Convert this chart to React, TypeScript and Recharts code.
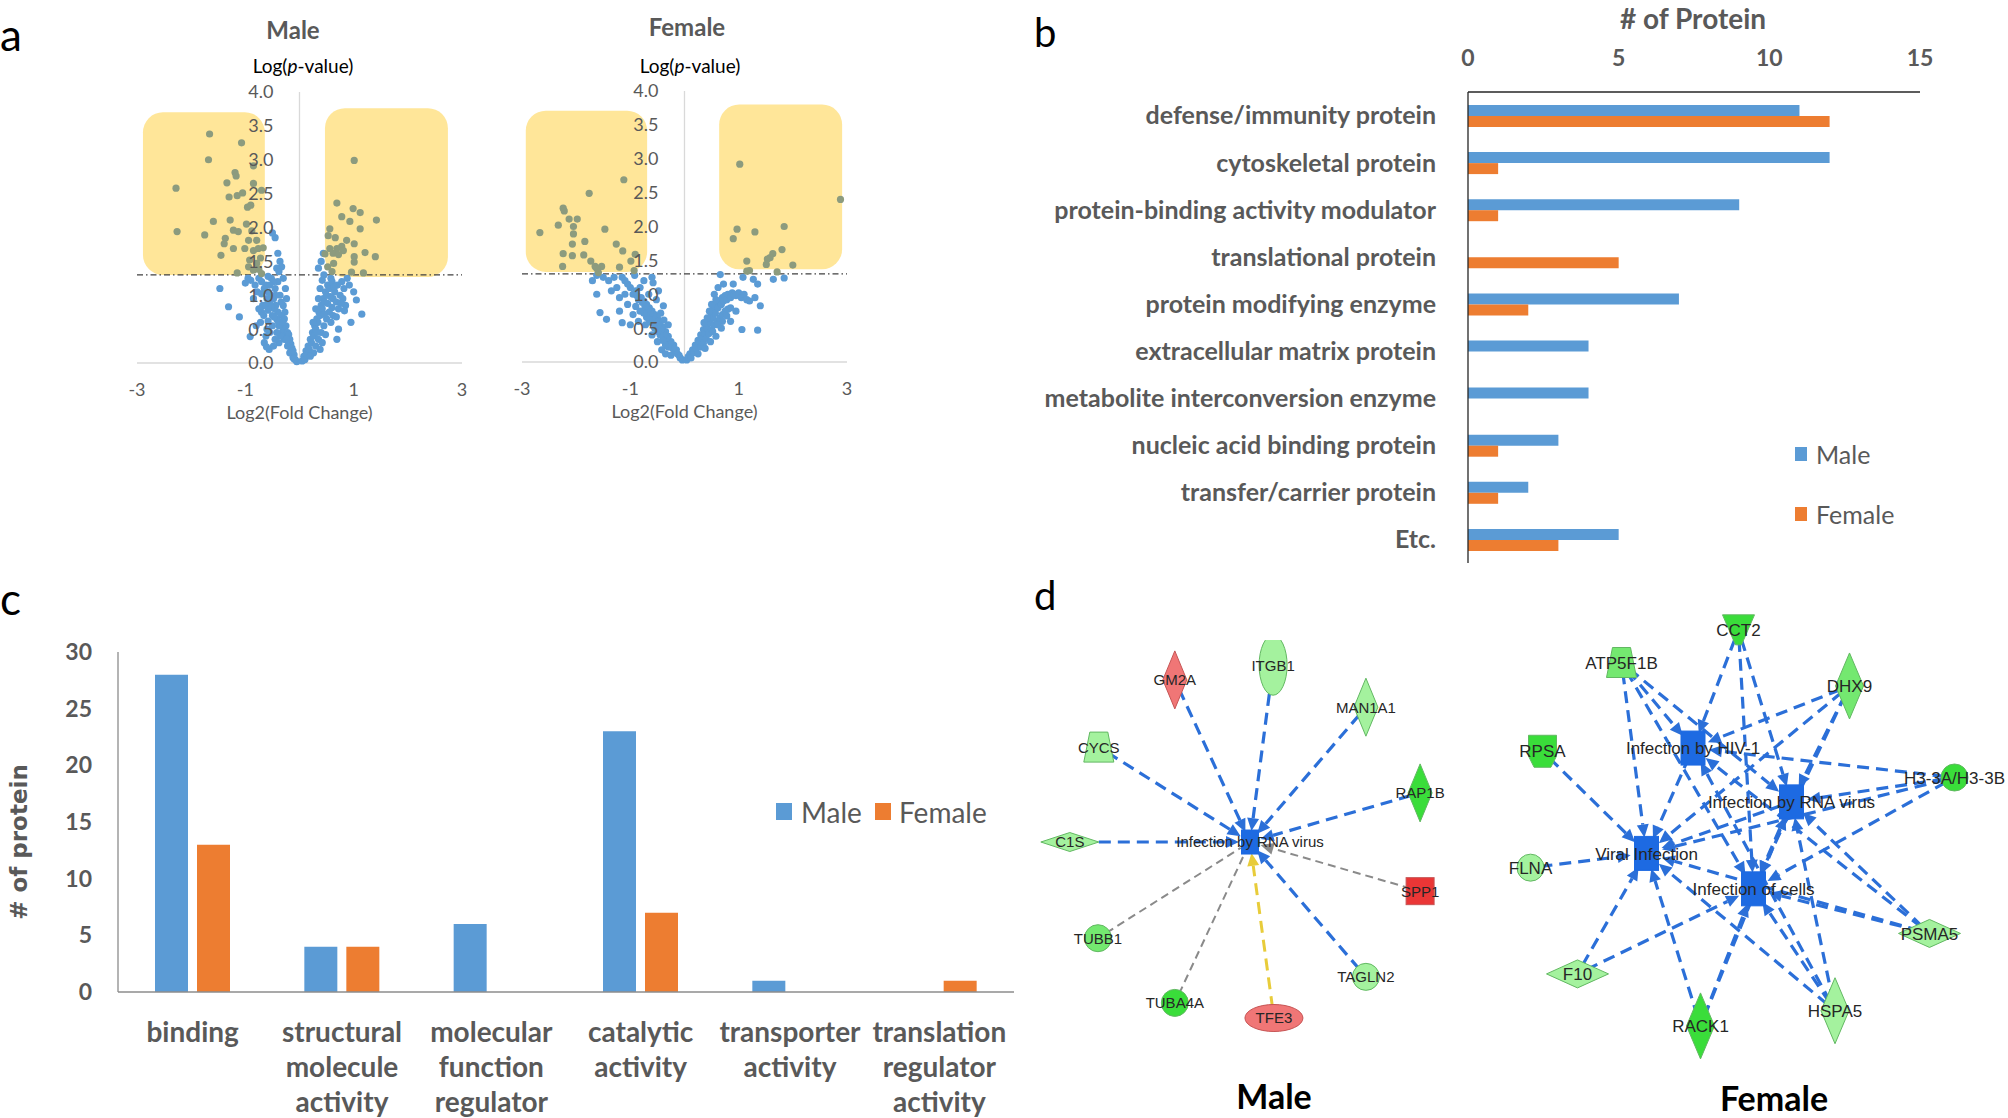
import React from 'react';
import {
  ScatterChart,
  Scatter,
  BarChart,
  Bar,
  XAxis,
  YAxis,
  ReferenceArea,
  ReferenceLine,
  Legend,
} from 'recharts';

const BLUE = '#5B9BD5';
const ORANGE = '#ED7D31';
const OLIVE = '#8C9B7E';
const TXT = '#595959';
const BOX = '#FFE699';
const LATO = 'Lato, "Open Sans", sans-serif';
const ARIAL = '"Liberation Sans", Arial, sans-serif';
const VERDANA = '"DejaVu Sans", Verdana, sans-serif';

// ---------------- panel a : volcano plots ----------------
const volcanoXTicks = [-3, -1, 1, 3];
const volcanoYTicks = [0, 0.5, 1, 1.5, 2, 2.5, 3, 3.5, 4];
const pThreshold = 1.3;

const maleBlue: [number, number][] = [
  [-0.05, 0.02], [-0.08, 0.05], [-0.1, 0.12], [-0.12, 0.08], [-0.15, 0.2], [-0.18, 0.15], [-0.2, 0.3], [-0.22, 0.25],
  [-0.25, 0.4], [-0.28, 0.35], [-0.3, 0.5], [-0.32, 0.45], [-0.35, 0.6], [-0.33, 0.7], [-0.38, 0.55], [-0.4, 0.75],
  [-0.42, 0.65], [-0.44, 0.85], [-0.46, 0.8], [-0.48, 0.95], [-0.5, 0.7], [-0.52, 1.0], [-0.55, 0.9], [-0.58, 1.05],
  [-0.6, 0.95], [-0.62, 1.15], [-0.65, 1.1], [-0.68, 0.85], [-0.7, 0.75], [-0.72, 0.6], [-0.75, 0.8], [-0.45, 1.1],
  [-0.4, 1.2], [-0.36, 1.0], [-0.3, 0.85], [-0.28, 0.65], [-0.25, 0.55], [-0.22, 0.45], [-0.2, 0.42], [-0.18, 0.35],
  [-0.16, 0.28], [-0.14, 0.22], [-0.12, 0.18], [-0.1, 0.06], [-0.35, 0.4], [-0.38, 0.3], [-0.42, 0.45], [-0.45, 0.35],
  [-0.5, 0.55], [-0.55, 0.45], [-0.58, 0.62], [-0.6, 0.5], [-0.62, 0.4], [-0.65, 0.3], [-0.56, 0.2], [-0.48, 0.25],
  [-0.52, 1.25], [-0.48, 1.2], [-0.58, 1.28], [-0.7, 1.2], [-0.75, 1.25], [-0.78, 1.05], [-0.82, 1.15], [-0.85, 0.95],
  [-0.9, 1.22], [-0.95, 1.25], [-1.0, 1.18], [-1.47, 1.1], [-1.31, 0.83], [-1.11, 0.68], [-0.91, 0.39], [-0.61, 0.24],
  [-0.8, 0.55], [-0.36, 1.5], [-0.4, 1.62], [-0.45, 1.85], [-0.5, 1.92], [-0.33, 1.42], [-0.42, 1.4], [-0.38, 1.35],
  [-0.3, 1.25], [-0.26, 1.1], [-0.24, 0.95], [-0.27, 0.75], [-0.55, 1.15], [-0.62, 0.85], [-0.66, 0.7], [-0.44, 1.0],
  [-0.34, 0.9], [-0.52, 0.82], [-0.4, 0.62], [-0.58, 0.78], [-0.7, 1.02], [-0.31, 0.6], [-0.47, 0.68], [-0.24, 0.35],
  [0.05, 0.03], [0.08, 0.1], [0.1, 0.05], [0.12, 0.18], [0.14, 0.12], [0.16, 0.25], [0.18, 0.2], [0.2, 0.35],
  [0.22, 0.3], [0.24, 0.45], [0.26, 0.4], [0.28, 0.55], [0.3, 0.5], [0.32, 0.65], [0.34, 0.6], [0.36, 0.75],
  [0.38, 0.7], [0.4, 0.85], [0.42, 0.8], [0.44, 0.95], [0.46, 0.9], [0.48, 1.05], [0.5, 1.0], [0.52, 1.15],
  [0.55, 1.1], [0.58, 1.25], [0.6, 1.2], [0.62, 0.95], [0.65, 1.05], [0.68, 0.9], [0.7, 1.15], [0.72, 0.8],
  [0.75, 1.0], [0.78, 1.2], [0.8, 0.95], [0.82, 1.1], [0.85, 0.85], [0.88, 1.25], [0.3, 0.25], [0.35, 0.35],
  [0.4, 0.45], [0.45, 0.55], [0.5, 0.65], [0.55, 0.75], [0.58, 0.6], [0.62, 0.7], [0.48, 0.42], [0.42, 0.3],
  [0.38, 0.2], [0.26, 0.15], [0.2, 0.1], [0.25, 0.6], [0.3, 0.8], [0.35, 0.95], [0.38, 1.1], [0.42, 1.22],
  [0.45, 1.3], [0.35, 1.4], [0.4, 1.5], [0.44, 1.62], [1.15, 0.72], [1.05, 0.93], [0.83, 0.77], [0.69, 0.35],
  [0.95, 0.6], [0.72, 0.5], [0.92, 1.15], [1.0, 1.05], [0.52, 0.88], [0.64, 1.12], [0.57, 0.98], [0.46, 0.72],
  [0.68, 0.68], [0.76, 0.88], [0.33, 0.45], [0.6, 0.82],
];

const maleSig: [number, number][] = [
  [-2.28, 2.58], [-2.26, 1.94], [-1.66, 3.38], [-1.68, 3.0], [-1.59, 2.09], [-1.75, 1.89], [-1.45, 1.59], [-1.34, 2.66],
  [-1.19, 2.81], [-1.17, 2.76], [-1.07, 3.25], [-1.3, 2.45], [-1.15, 2.47], [-1.05, 2.51], [-0.85, 2.91], [-0.85, 2.65],
  [-0.96, 2.3], [-0.9, 2.33], [-1.28, 2.11], [-1.22, 1.96], [-1.13, 1.94], [-1.37, 1.84], [-1.39, 1.76], [-1.22, 1.69],
  [-1.01, 1.69], [-0.94, 1.81], [-0.79, 1.81], [-0.85, 1.66], [-0.76, 1.69], [-0.67, 1.7], [-0.79, 1.47], [-0.72, 1.55],
  [-0.92, 1.52], [-0.75, 1.38], [-1.15, 1.33], [-0.94, 1.42], [-0.85, 1.37], [-0.7, 2.55], [-0.98, 2.05], [-0.88, 1.95],
  [-0.7, 1.32],
  [1.01, 2.99], [0.69, 2.36], [0.99, 2.28], [1.12, 2.22], [0.78, 2.16], [0.93, 2.09], [1.42, 2.11], [0.56, 1.98],
  [1.12, 1.98], [0.53, 1.88], [0.66, 1.85], [0.87, 1.81], [1.01, 1.76], [0.78, 1.72], [0.69, 1.69], [0.81, 1.66],
  [0.62, 1.62], [0.56, 1.69], [1.21, 1.63], [1.01, 1.57], [1.4, 1.57], [1.01, 1.49], [0.63, 1.47], [0.96, 1.34],
  [1.18, 1.33], [0.47, 1.61], [0.72, 1.6], [0.6, 1.35], [0.52, 1.42],
];

const femaleBlue: [number, number][] = [
  [-0.04, 0.03], [-0.08, 0.06], [-0.1, 0.1], [-0.13, 0.12], [-0.15, 0.18], [-0.18, 0.15], [-0.2, 0.25], [-0.22, 0.2],
  [-0.25, 0.3], [-0.28, 0.28], [-0.3, 0.38], [-0.33, 0.35], [-0.35, 0.45], [-0.38, 0.4], [-0.4, 0.52], [-0.43, 0.48],
  [-0.45, 0.6], [-0.48, 0.55], [-0.5, 0.65], [-0.53, 0.62], [-0.55, 0.7], [-0.58, 0.68], [-0.6, 0.75], [-0.63, 0.72],
  [-0.65, 0.8], [-0.68, 0.78], [-0.7, 0.85], [-0.73, 0.82], [-0.75, 0.9], [-0.78, 0.88], [-0.8, 0.95], [-0.85, 0.92],
  [-0.88, 0.98], [-0.9, 1.05], [-0.95, 1.0], [-1.0, 1.1], [-1.05, 1.15], [-1.1, 1.2], [-1.15, 1.25], [-0.3, 0.22],
  [-0.35, 0.25], [-0.4, 0.32], [-0.45, 0.4], [-0.5, 0.45], [-0.55, 0.5], [-0.6, 0.58], [-0.65, 0.62], [-0.7, 0.66],
  [-0.75, 0.72], [-0.82, 0.75], [-0.5, 0.3], [-0.42, 0.18], [-0.35, 0.12], [-0.25, 0.1], [-0.6, 0.4], [-0.72, 0.55],
  [-0.85, 0.6], [-0.95, 0.7], [-1.05, 0.85], [-1.2, 0.95], [-1.25, 1.1], [-1.3, 1.25], [-1.4, 1.2], [-1.56, 0.73],
  [-1.44, 0.63], [-1.62, 1.0], [-1.35, 1.05], [-1.2, 0.75], [-1.15, 0.58], [-1.0, 0.55], [-0.58, 1.17], [-0.39, 0.83],
  [-0.48, 1.05], [-0.6, 1.25], [-0.75, 1.2], [-0.92, 1.28], [-1.5, 1.25], [-1.62, 1.28], [-1.7, 1.2], [-0.52, 0.92],
  [-0.66, 1.0], [-0.44, 0.72], [-0.82, 1.1], [-0.3, 0.55], [-0.9, 0.82], [-1.1, 1.0], [-0.38, 0.62],
  [0.04, 0.03], [0.07, 0.08], [0.1, 0.12], [0.12, 0.06], [0.15, 0.18], [0.17, 0.14], [0.2, 0.25], [0.22, 0.2],
  [0.25, 0.32], [0.27, 0.28], [0.3, 0.4], [0.32, 0.35], [0.35, 0.48], [0.37, 0.42], [0.4, 0.55], [0.42, 0.5],
  [0.45, 0.62], [0.47, 0.58], [0.5, 0.7], [0.52, 0.65], [0.55, 0.78], [0.57, 0.72], [0.6, 0.85], [0.62, 0.8],
  [0.65, 0.9], [0.68, 0.85], [0.7, 0.95], [0.72, 0.9], [0.75, 0.98], [0.78, 0.92], [0.8, 1.0], [0.85, 0.95],
  [0.88, 1.02], [0.92, 1.0], [0.95, 0.98], [1.0, 1.02], [1.05, 0.95], [1.1, 1.0], [1.15, 0.92], [1.2, 0.9],
  [0.3, 0.22], [0.35, 0.28], [0.4, 0.35], [0.45, 0.42], [0.5, 0.48], [0.55, 0.55], [0.6, 0.6], [0.65, 0.65],
  [0.7, 0.7], [0.75, 0.75], [0.8, 0.78], [0.85, 0.8], [0.25, 0.12], [0.38, 0.2], [0.48, 0.3], [0.58, 0.38],
  [0.68, 0.5], [0.42, 0.65], [0.5, 0.85], [0.55, 1.0], [0.62, 1.1], [0.66, 1.29], [0.72, 1.15], [0.9, 1.15],
  [1.08, 1.25], [1.27, 1.22], [1.35, 1.15], [1.64, 1.22], [1.84, 1.24], [1.06, 0.48], [1.35, 0.47], [1.4, 0.83],
  [1.3, 0.95], [0.95, 0.75], [0.85, 0.6], [0.46, 0.75], [0.58, 0.92], [0.7, 0.6], [0.36, 0.58], [0.78, 0.68],
  [0.52, 0.45], [0.62, 0.55],
];

const femaleSig: [number, number][] = [
  [-2.67, 1.91], [-2.33, 2.02], [-2.24, 2.27], [-2.22, 2.23], [-2.13, 2.11], [-1.98, 2.11], [-2.05, 2.0], [-2.05, 1.89],
  [-2.07, 1.74], [-2.24, 1.6], [-2.07, 1.57], [-2.25, 1.41], [-1.84, 1.78], [-1.86, 1.58], [-1.76, 2.49], [-1.73, 1.49],
  [-1.65, 1.41], [-1.53, 1.41], [-1.47, 1.96], [-1.26, 1.74], [-1.14, 1.64], [-1.12, 2.69], [-0.99, 1.49], [-0.91, 1.59],
  [-0.93, 1.35], [-1.59, 1.32], [-1.62, 1.38], [-1.2, 1.4],
  [1.02, 2.92], [2.88, 2.4], [0.97, 1.96], [0.9, 1.82], [1.3, 1.92], [1.84, 2.0], [1.8, 1.66], [1.63, 1.6],
  [1.58, 1.54], [1.53, 1.52], [1.51, 1.44], [1.15, 1.49], [2.0, 1.43], [1.2, 1.35], [1.15, 1.34], [1.71, 1.33],
];

// highlighted ranges [x1, x2, y1, y2]
const maleBoxes: [number, number, number, number][] = [[-2.89, -0.64, 1.3, 3.7], [0.47, 2.74, 1.27, 3.76]];
const femaleBoxes: [number, number, number, number][] = [[-2.93, -0.69, 1.33, 3.71], [0.64, 2.91, 1.37, 3.8]];

// ---------------- panel b : protein class ----------------
const proteinClasses = [
  'defense/immunity protein',
  'cytoskeletal protein',
  'protein-binding activity modulator',
  'translational protein',
  'protein modifying enzyme',
  'extracellular matrix protein',
  'metabolite interconversion enzyme',
  'nucleic acid binding protein',
  'transfer/carrier protein',
  'Etc.',
];
const classMale = [11, 12, 9, 0, 7, 4, 4, 3, 2, 5];
const classFemale = [12, 1, 1, 5, 2, 0, 0, 1, 1, 3];
const classTicks = [0, 5, 10, 15];

// ---------------- panel c : molecular function ----------------
const functionCats = [
  'binding',
  'structural molecule activity',
  'molecular function regulator',
  'catalytic activity',
  'transporter activity',
  'translation regulator activity',
];
const funcMale = [28, 4, 6, 23, 1, 0];
const funcFemale = [13, 4, 0, 7, 0, 1];
const funcTicks = [0, 5, 10, 15, 20, 25, 30];

// ---------------- panel d : networks ----------------
type NetNode = { id: string; label: string; x: number; y: number; kind: string; tone: string };

const maleNodes: NetNode[] = [
  { id: 'RNA', label: 'Infection by RNA virus', x: 50.0, y: 48.1, kind: 'fnS', tone: 'fn' },
  { id: 'GM2A', label: 'GM2A', x: 32.1, y: 9.5, kind: 'vdia', tone: 'pink' },
  { id: 'ITGB1', label: 'ITGB1', x: 55.5, y: 6.0, kind: 'ellV', tone: 'light' },
  { id: 'MAN1A1', label: 'MAN1A1', x: 77.6, y: 16.0, kind: 'vdia', tone: 'light' },
  { id: 'CYCS', label: 'CYCS', x: 14.0, y: 25.5, kind: 'trap', tone: 'light' },
  { id: 'RAP1B', label: 'RAP1B', x: 90.5, y: 36.4, kind: 'vdia', tone: 'bright' },
  { id: 'C1S', label: 'C1S', x: 7.1, y: 48.1, kind: 'hdia', tone: 'light' },
  { id: 'SPP1', label: 'SPP1', x: 90.5, y: 59.8, kind: 'sq', tone: 'red' },
  { id: 'TUBB1', label: 'TUBB1', x: 13.8, y: 71.0, kind: 'circ', tone: 'mid' },
  { id: 'TAGLN2', label: 'TAGLN2', x: 77.6, y: 80.2, kind: 'circ', tone: 'light' },
  { id: 'TUBA4A', label: 'TUBA4A', x: 32.1, y: 86.4, kind: 'circ', tone: 'bright' },
  { id: 'TFE3', label: 'TFE3', x: 55.7, y: 90.0, kind: 'ellH', tone: 'pink' },
];
const maleEdges: [string, string, string][] = [
  ['GM2A', 'RNA', 'blue'], ['ITGB1', 'RNA', 'blue'], ['MAN1A1', 'RNA', 'blue'], ['CYCS', 'RNA', 'blue'],
  ['RAP1B', 'RNA', 'blue'], ['C1S', 'RNA', 'blue'], ['TAGLN2', 'RNA', 'blue'], ['SPP1', 'RNA', 'grayArrow'],
  ['TUBB1', 'RNA', 'gray'], ['TUBA4A', 'RNA', 'gray'], ['TFE3', 'RNA', 'yellow'],
];

const femaleNodes: NetNode[] = [
  { id: 'HIV', label: 'Infection by HIV-1', x: 37.6, y: 31.1, kind: 'fnL', tone: 'fn' },
  { id: 'RNA', label: 'Infection by RNA virus', x: 57.3, y: 42.8, kind: 'fnL', tone: 'fn' },
  { id: 'VIR', label: 'Viral Infection', x: 28.3, y: 54.0, kind: 'fnL', tone: 'fn' },
  { id: 'CEL', label: 'Infection of cells', x: 49.7, y: 61.7, kind: 'fnL', tone: 'fn' },
  { id: 'CCT2', label: 'CCT2', x: 46.7, y: 5.4, kind: 'tri', tone: 'bright' },
  { id: 'ATP5F1B', label: 'ATP5F1B', x: 23.3, y: 12.5, kind: 'trap', tone: 'mid' },
  { id: 'DHX9', label: 'DHX9', x: 68.9, y: 17.6, kind: 'vdiaL', tone: 'mid' },
  { id: 'RPSA', label: 'RPSA', x: 7.5, y: 31.8, kind: 'hex', tone: 'bright' },
  { id: 'H3', label: 'H3-3A/H3-3B', x: 89.9, y: 37.5, kind: 'circ', tone: 'bright' },
  { id: 'FLNA', label: 'FLNA', x: 5.1, y: 57.1, kind: 'circ', tone: 'light' },
  { id: 'PSMA5', label: 'PSMA5', x: 84.9, y: 71.4, kind: 'hdiaL', tone: 'light' },
  { id: 'F10', label: 'F10', x: 14.5, y: 80.2, kind: 'hdiaL', tone: 'light' },
  { id: 'RACK1', label: 'RACK1', x: 39.1, y: 91.5, kind: 'vdiaL', tone: 'bright' },
  { id: 'HSPA5', label: 'HSPA5', x: 66.0, y: 88.2, kind: 'vdiaL', tone: 'light' },
];
const femaleEdges: [string, string, string][] = [
  ['ATP5F1B', 'HIV', 'blue'], ['ATP5F1B', 'RNA', 'blue'], ['ATP5F1B', 'VIR', 'blue'], ['ATP5F1B', 'CEL', 'blue'],
  ['CCT2', 'HIV', 'blue'], ['CCT2', 'RNA', 'blue'], ['CCT2', 'CEL', 'blue'],
  ['DHX9', 'HIV', 'blue'], ['DHX9', 'RNA', 'blue'], ['DHX9', 'VIR', 'blue'], ['DHX9', 'CEL', 'blue'],
  ['RPSA', 'VIR', 'blue'], ['FLNA', 'VIR', 'blue'],
  ['H3', 'HIV', 'blue'], ['H3', 'RNA', 'blue'], ['H3', 'VIR', 'blue'], ['H3', 'CEL', 'blue'],
  ['PSMA5', 'HIV', 'blue'], ['PSMA5', 'RNA', 'blue'], ['PSMA5', 'CEL', 'blue'], ['PSMA5', 'VIR', 'blue'],
  ['F10', 'VIR', 'blue'], ['F10', 'CEL', 'blue'],
  ['RACK1', 'VIR', 'blue'], ['RACK1', 'CEL', 'blue'], ['RACK1', 'RNA', 'blue'],
  ['HSPA5', 'HIV', 'blue'], ['HSPA5', 'VIR', 'blue'], ['HSPA5', 'CEL', 'blue'], ['HSPA5', 'RNA', 'blue'],
  ['HIV', 'VIR', 'blue'], ['RNA', 'CEL', 'blue'], ['RNA', 'VIR', 'blue'],
];

// ---------------- helpers ----------------
const Txt = ({ x, y, size, children, weight = 400, color = TXT, family = LATO, anchor = 'middle' }: any) => (
  <div
    style={{
      position: 'absolute',
      left: x,
      top: y,
      transform: `translate(${anchor === 'middle' ? '-50%' : '0'}, -50%)`,
      fontSize: size,
      fontWeight: weight,
      color,
      fontFamily: family,
      whiteSpace: 'nowrap',
      lineHeight: 1,
    }}
  >
    {children}
  </div>
);

const toPts = (arr: [number, number][]) => arr.map(([x, y]) => ({ x, y }));

const VW = 365;
const VH = 351;
const VM = { top: 20, right: 20, bottom: 0, left: 19 };
const V_YAXIS_W = 1;
const V_CENTER = VM.left + V_YAXIS_W + (VW - VM.left - V_YAXIS_W - VM.right) / 2;

const VolcanoYTick = ({ y, payload }: any) => (
  <text x={V_CENTER - 26} y={y} dy="0.36em" textAnchor="end" fill={TXT} fontSize={18} fontFamily={LATO}>
    {Number(payload.value).toFixed(1)}
  </text>
);

function Volcano({ left, top, blue, sig, boxes }: any) {
  const dot = (color: string) => (p: any) => <circle cx={p.cx} cy={p.cy} r={3.6} fill={color} />;
  return (
    <div style={{ position: 'absolute', left, top }}>
      <ScatterChart width={VW} height={VH} margin={VM}>
        <XAxis
          type="number"
          dataKey="x"
          domain={[-3, 3]}
          ticks={volcanoXTicks}
          height={60}
          tickLine={false}
          tickSize={0}
          tickMargin={20}
          axisLine={{ stroke: '#D9D9D9', strokeWidth: 1.3 }}
          tick={{ fill: TXT, fontSize: 18, fontFamily: LATO }}
          label={{ value: 'Log2(Fold Change)', position: 'insideBottom', offset: 4, fill: TXT, fontSize: 18, fontFamily: LATO }}
        />
        <YAxis
          type="number"
          dataKey="y"
          domain={[0, 4]}
          ticks={volcanoYTicks}
          width={V_YAXIS_W}
          axisLine={false}
          tickLine={false}
          tick={(p: any) => <VolcanoYTick {...p} />}
        />
        {boxes.map((b: number[], i: number) => (
          <ReferenceArea
            key={i}
            x1={b[0]}
            x2={b[1]}
            y1={b[2]}
            y2={b[3]}
            ifOverflow="visible"
            shape={(p: any) => <rect x={p.x} y={p.y} width={p.width} height={p.height} rx={20} ry={20} fill={BOX} />}
          />
        ))}
        <ReferenceLine x={0} stroke="#D9D9D9" strokeWidth={1.3} />
        <ReferenceLine y={pThreshold} stroke="#404040" strokeWidth={1.2} strokeDasharray="6 3 1.5 3" />
        <Scatter data={toPts(blue)} shape={dot(BLUE)} isAnimationActive={false} />
        <Scatter data={toPts(sig)} shape={dot(OLIVE)} isAnimationActive={false} />
      </ScatterChart>
    </div>
  );
}

// ---------- network glyphs ----------
const NODE_SIZE: Record<string, [number, number]> = {
  fnS: [17, 24],
  fnL: [24, 34],
  vdia: [24, 58],
  vdiaL: [28, 66],
  hdia: [58, 19],
  hdiaL: [62, 28],
  ellV: [28, 60],
  ellH: [58, 27],
  circ: [27, 27],
  sq: [28, 27],
  trap: [30, 30],
  hex: [28, 32],
  tri: [32, 30],
};
const TONE: Record<string, string> = {
  light: '#A4F29E',
  mid: '#74E870',
  bright: '#3ADD3A',
  pink: '#F07676',
  red: '#EA3636',
  fn: '#1D6AE2',
};

const NodeGlyph = ({ cx, cy, payload, fs }: any) => {
  const [w, h] = NODE_SIZE[payload.kind];
  const fill = TONE[payload.tone];
  const stroke = payload.tone === 'fn' ? fill : payload.tone === 'pink' || payload.tone === 'red' ? '#C65454' : '#62B862';
  const l = cx - w / 2;
  const r = cx + w / 2;
  const t = cy - h / 2;
  const b = cy + h / 2;
  let g: React.ReactNode;
  switch (payload.kind) {
    case 'vdia':
    case 'vdiaL':
    case 'hdia':
    case 'hdiaL':
      g = <polygon points={`${cx},${t} ${r},${cy} ${cx},${b} ${l},${cy}`} fill={fill} stroke={stroke} />;
      break;
    case 'ellV':
    case 'ellH':
      g = <ellipse cx={cx} cy={cy} rx={w / 2} ry={h / 2} fill={fill} stroke={stroke} />;
      break;
    case 'circ':
      g = <circle cx={cx} cy={cy} r={w / 2} fill={fill} stroke={stroke} />;
      break;
    case 'trap':
      g = <polygon points={`${cx - w * 0.3},${t} ${cx + w * 0.3},${t} ${r},${b} ${l},${b}`} fill={fill} stroke={stroke} />;
      break;
    case 'hex':
      g = (
        <polygon
          points={`${l},${t} ${r},${t} ${r},${cy + h * 0.15} ${cx + w * 0.3},${b} ${cx - w * 0.3},${b} ${l},${cy + h * 0.15}`}
          fill={fill}
          stroke={stroke}
        />
      );
      break;
    case 'tri':
      g = <polygon points={`${l},${t} ${r},${t} ${cx + 3},${b} ${cx - 3},${b}`} fill={fill} stroke={stroke} />;
      break;
    default:
      g = <rect x={l} y={t} width={w} height={h} fill={fill} stroke={stroke} />;
  }
  return (
    <g>
      {g}
      <text x={cx} y={cy} dy="0.36em" textAnchor="middle" fontSize={fs} fontFamily={ARIAL} fill="#262626">
        {payload.label}
      </text>
    </g>
  );
};

const EDGE_STYLE: Record<string, { color: string; width: number; dash: string; arrow: boolean }> = {
  blue: { color: '#2B6FD8', width: 3.2, dash: '12 7', arrow: true },
  gray: { color: '#8A8A8A', width: 2, dash: '8 5', arrow: false },
  grayArrow: { color: '#8A8A8A', width: 2, dash: '8 5', arrow: true },
  yellow: { color: '#E8CC3A', width: 3, dash: '12 7', arrow: true },
};

const EdgePath = ({ x1, y1, x2, y2, type, gap }: any) => {
  const s = EDGE_STYLE[type];
  const dx = x2 - x1;
  const dy = y2 - y1;
  const len = Math.hypot(dx, dy) || 1;
  const ux = dx / len;
  const uy = dy / len;
  const sx = x1 + ux * 10;
  const sy = y1 + uy * 10;
  const ex = x2 - ux * gap;
  const ey = y2 - uy * gap;
  const head = 13;
  const bx = ex - ux * head;
  const by = ey - uy * head;
  const px = -uy * 6;
  const py = ux * 6;
  return (
    <g>
      <line
        x1={sx}
        y1={sy}
        x2={s.arrow ? bx : ex}
        y2={s.arrow ? by : ey}
        stroke={s.color}
        strokeWidth={s.width}
        strokeDasharray={s.dash}
      />
      {s.arrow && <polygon points={`${ex},${ey} ${bx + px},${by + py} ${bx - px},${by - py}`} fill={s.color} />}
    </g>
  );
};

function Network({ left, top, width, height, nodes, edges, gap, fs }: any) {
  const byId: Record<string, NetNode> = {};
  nodes.forEach((n: NetNode) => (byId[n.id] = n));
  return (
    <div style={{ position: 'absolute', left, top }}>
      <ScatterChart width={width} height={height} margin={{ top: 0, right: 0, bottom: 0, left: 0 }}>
        <XAxis type="number" dataKey="x" domain={[0, 100]} hide />
        <YAxis type="number" dataKey="y" domain={[0, 100]} reversed hide />
        {edges.map(([s, t, type]: string[], i: number) => (
          <ReferenceLine
            key={i}
            ifOverflow="visible"
            segment={[
              { x: byId[s].x, y: byId[s].y },
              { x: byId[t].x, y: byId[t].y },
            ]}
            shape={(p: any) => <EdgePath {...p} type={type} gap={gap} />}
          />
        ))}
        <Scatter data={nodes} shape={(p: any) => <NodeGlyph {...p} fs={fs} />} isAnimationActive={false} />
      </ScatterChart>
    </div>
  );
}

// ---------- bar chart helpers ----------
const classRows = proteinClasses.map((cat, i) => ({ cat, male: classMale[i], female: classFemale[i] }));
const funcRows = functionCats.map((cat, i) => ({ cat, male: funcMale[i], female: funcFemale[i] }));

const WrapTick = ({ x, y, payload }: any) => {
  const lines = String(payload.value).split(' ');
  return (
    <text x={x} y={y} textAnchor="middle" fill={TXT} fontSize={28} fontWeight={700} fontFamily={LATO}>
      {lines.map((ln, i) => (
        <tspan key={i} x={x} dy={i === 0 ? 50 : 35}>
          {ln}
        </tspan>
      ))}
    </text>
  );
};

const Swatch = ({ color, left, top, w, h }: any) => (
  <div style={{ position: 'absolute', left, top, width: w, height: h, background: color }} />
);

const ClassLegend = () => (
  <div style={{ position: 'relative', width: 120, height: 90, fontFamily: LATO, color: TXT, fontSize: 25 }}>
    <Swatch color={BLUE} left={0} top={7} w={12} h={14} />
    <div style={{ position: 'absolute', left: 21, top: 14, transform: 'translateY(-50%)', lineHeight: 1 }}>Male</div>
    <Swatch color={ORANGE} left={0} top={67} w={12} h={14} />
    <div style={{ position: 'absolute', left: 21, top: 74, transform: 'translateY(-50%)', lineHeight: 1 }}>Female</div>
  </div>
);

const FuncLegend = () => (
  <div style={{ position: 'relative', width: 240, height: 36, fontFamily: LATO, color: TXT, fontSize: 28 }}>
    <Swatch color={BLUE} left={0} top={9} w={16} h={17} />
    <div style={{ position: 'absolute', left: 25, top: 18, transform: 'translateY(-50%)', lineHeight: 1 }}>Male</div>
    <Swatch color={ORANGE} left={99} top={9} w={16} h={17} />
    <div style={{ position: 'absolute', left: 123, top: 18, transform: 'translateY(-50%)', lineHeight: 1 }}>Female</div>
  </div>
);

const FuncYLabel = ({ viewBox }: any) => {
  const x = viewBox.x + 19;
  const y = viewBox.y + viewBox.height / 2 + 20;
  return (
    <text x={x} y={y} transform={`rotate(-90 ${x} ${y})`} dy="0.36em" textAnchor="middle" fill={TXT} fontSize={23} fontWeight={700} fontFamily={VERDANA}>
      # of protein
    </text>
  );
};

export default function App() {
  return (
    <div style={{ position: 'absolute', left: 0, top: 0, width: 2008, height: 1118, background: '#fff', overflow: 'hidden' }}>
      {/* panel letters */}
      <Txt x={0} y={34} size={44} color="#000" anchor="start">a</Txt>
      <Txt x={1034} y={32} size={40} color="#000" anchor="start">b</Txt>
      <Txt x={0} y={598} size={44} color="#000" anchor="start">c</Txt>
      <Txt x={1034} y={595} size={40} color="#000" anchor="start">d</Txt>

      {/* panel a */}
      <Txt x={293} y={30} size={24} weight={700}>Male</Txt>
      <Txt x={303} y={65} size={19} color="#000">Log(<i>p</i>-value)</Txt>
      <Volcano left={117} top={72} blue={maleBlue} sig={maleSig} boxes={maleBoxes} />

      <Txt x={687} y={27} size={24} weight={700}>Female</Txt>
      <Txt x={690} y={65} size={19} color="#000">Log(<i>p</i>-value)</Txt>
      <Volcano left={502} top={71} blue={femaleBlue} sig={femaleSig} boxes={femaleBoxes} />

      {/* panel b */}
      <Txt x={1693} y={18} size={28} weight={700}># of Protein</Txt>
      <div style={{ position: 'absolute', left: 1000, top: 0 }}>
        <BarChart
          layout="vertical"
          width={960}
          height={575}
          data={classRows}
          margin={{ top: 0, right: 40, bottom: 12, left: 0 }}
          barGap={0}
          barSize={11}
        >
          <XAxis
            type="number"
            orientation="top"
            domain={[0, 15]}
            ticks={classTicks}
            height={92}
            tickSize={0}
            tickMargin={26}
            axisLine={{ stroke: '#262626', strokeWidth: 1.3 }}
            tick={{ fill: TXT, fontSize: 23, fontWeight: 700, fontFamily: LATO }}
          />
          <YAxis
            type="category"
            dataKey="cat"
            width={468}
            tickSize={0}
            tickMargin={32}
            interval={0}
            axisLine={{ stroke: '#262626', strokeWidth: 1.3 }}
            tick={{ fill: TXT, fontSize: 25, fontWeight: 700, fontFamily: LATO }}
          />
          <Bar dataKey="male" name="Male" fill={BLUE} isAnimationActive={false} />
          <Bar dataKey="female" name="Female" fill={ORANGE} isAnimationActive={false} />
          <Legend
            layout="vertical"
            align="center"
            verticalAlign="middle"
            wrapperStyle={{ left: 795, top: 440, width: 120, height: 90 }}
            content={() => <ClassLegend />}
          />
        </BarChart>
      </div>

      {/* panel c */}
      <div style={{ position: 'absolute', left: 0, top: 580 }}>
        <BarChart
          width={1020}
          height={538}
          data={funcRows}
          margin={{ top: 72, right: 6, bottom: 0, left: 0 }}
          barGap={9}
          barSize={33}
        >
          <XAxis
            dataKey="cat"
            height={126}
            interval={0}
            tickSize={0}
            tickMargin={0}
            axisLine={{ stroke: '#8C8C8C', strokeWidth: 1.3 }}
            tick={<WrapTick />}
          />
          <YAxis
            type="number"
            domain={[0, 30]}
            ticks={funcTicks}
            width={118}
            tickSize={0}
            tickMargin={26}
            axisLine={{ stroke: '#8C8C8C', strokeWidth: 1.3 }}
            tick={{ fill: TXT, fontSize: 23, fontWeight: 700, fontFamily: LATO }}
            label={<FuncYLabel />}
          />
          <Bar dataKey="male" name="Male" fill={BLUE} isAnimationActive={false} />
          <Bar dataKey="female" name="Female" fill={ORANGE} isAnimationActive={false} />
          <Legend
            layout="horizontal"
            align="center"
            verticalAlign="middle"
            wrapperStyle={{ left: 776, top: 214, width: 240, height: 36 }}
            content={() => <FuncLegend />}
          />
        </BarChart>
      </div>

      {/* panel d */}
      <Network left={1040} top={640} width={420} height={420} nodes={maleNodes} edges={maleEdges} gap={11} fs={15} />
      <Network left={1505} top={605} width={500} height={460} nodes={femaleNodes} edges={femaleEdges} gap={16} fs={17} />
      <Txt x={1274} y={1096} size={34} weight={700} color="#000">Male</Txt>
      <Txt x={1774} y={1098} size={34} weight={700} color="#000">Female</Txt>
    </div>
  );
}
